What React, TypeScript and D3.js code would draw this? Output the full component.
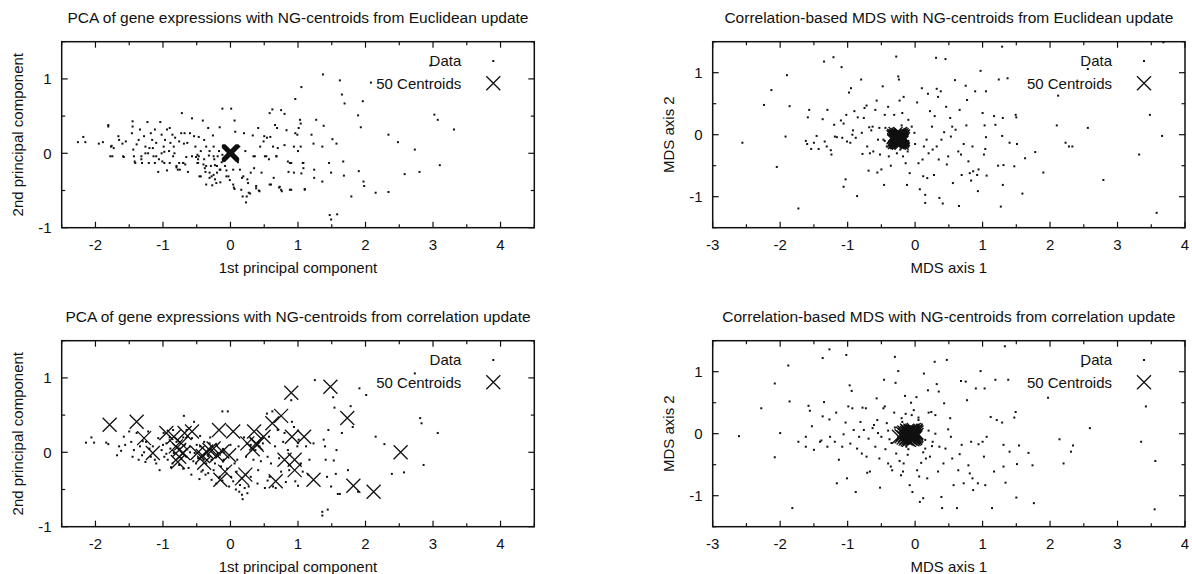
import React from "react";
import * as d3 from "d3";

type Pt = [number, number];

// tick values
const pcaXTicks = [-2, -1, 0, 1, 2, 3, 4];
const mdsXTicks = [-3, -2, -1, 0, 1, 2, 3, 4];
const yTickLabels = [-1, 0, 1];

// PCA, centroids from Euclidean update
const pcaEuclidData: Pt[] = [
  [-2.26, 0.15], [-2.18, 0.22], [-2.15, 0.15], [-1.95, 0.13], [-1.89, 0.15], [-1.81, 0.38], [-1.81, 0.36], [-1.76, 0.1],
  [-1.78, -0.04], [-1.73, 0.07], [-1.66, 0.23], [-1.65, 0.18], [-1.6, 0.13], [-1.59, -0.04], [-1.55, 0.16], [-1.45, 0.43],
  [-1.45, 0.36], [-1.46, 0.27], [-1.44, 0.05], [-1.43, -0.04], [-1.42, -0.11], [-1.39, 0.12], [-1.36, 0.18], [-1.34, 0.32],
  [-1.32, -0.08], [-1.31, -0.13], [-1.28, 0.23], [-1.26, 0.09], [-1.23, 0.42], [-1.22, 0.0], [-1.21, -0.13], [-1.18, 0.27],
  [-1.16, 0.18], [-1.15, 0.07], [-1.14, -0.04], [-1.12, 0.32], [-1.1, 0.14], [-1.07, -0.25], [-1.06, -0.08], [-1.04, 0.42],
  [-1.02, 0.25], [-1.02, 0.0], [-0.99, 0.09], [-0.98, -0.13], [-0.97, 0.18], [-0.94, 0.32], [-0.94, -0.23], [-0.91, 0.03],
  [-0.9, 0.34], [-0.89, 0.14], [-0.86, 0.25], [-0.85, -0.04], [-0.84, 0.09], [-0.82, 0.21], [-0.8, -0.17], [-0.78, -0.22],
  [-0.76, 0.16], [-0.76, -0.13], [-0.73, 0.27], [-0.72, 0.54], [-0.7, -0.13], [-0.69, 0.13], [-0.68, 0.27], [-0.67, -0.15],
  [-0.64, 0.14], [-0.6, 0.27], [-0.57, 0.47], [-0.57, -0.04], [-0.54, 0.23], [-0.52, 0.09], [-0.49, -0.02], [-0.48, -0.08],
  [-0.47, 0.22], [-0.44, 0.03], [-0.41, 0.44], [-0.4, -0.15], [-0.39, 0.18], [-0.37, -0.25], [-0.36, 0.09], [-0.33, 0.34],
  [-0.32, -0.03], [-0.31, -0.33], [-0.29, -0.17], [-0.27, -0.43], [-0.26, 0.24], [-0.25, 0.09], [-0.24, -0.08], [-0.23, -0.35],
  [-0.2, -0.26], [-0.19, -0.04], [-0.17, 0.03], [-0.16, 0.35], [-0.15, -0.39], [-0.13, -0.12], [-0.12, 0.6], [-0.1, 0.09],
  [-0.08, -0.17], [-0.06, -0.23], [-0.04, -0.04], [-0.03, -0.31], [0.01, 0.6], [0.04, -0.42], [0.05, -0.46], [0.06, 0.44],
  [0.07, 0.29], [0.09, -0.06], [0.11, -0.12], [0.13, 0.09], [0.14, -0.22], [0.17, -0.33], [0.18, -0.58], [0.2, 0.27],
  [0.22, 0.03], [0.23, -0.66], [0.25, -0.35], [0.26, -0.4], [0.27, -0.53], [0.3, -0.26], [0.33, 0.24], [0.34, -0.04],
  [0.35, -0.2], [0.38, -0.44], [0.41, 0.34], [0.42, -0.5], [0.44, 0.09], [0.46, -0.26], [0.49, 0.16], [0.5, 0.23],
  [0.51, -0.04], [0.54, 0.21], [0.57, -0.08], [0.58, 0.54], [0.59, 0.22], [0.6, -0.42], [0.62, 0.59], [0.63, 0.09],
  [0.64, -0.33], [0.66, 0.38], [0.68, -0.04], [0.69, 0.34], [0.7, 0.07], [0.72, -0.46], [0.75, 0.58], [0.76, -0.51],
  [0.8, 0.53], [0.8, 0.11], [0.83, 0.31], [0.85, -0.11], [0.86, -0.25], [0.88, -0.49], [0.9, -0.13], [0.94, 0.09],
  [0.94, -0.26], [0.96, 0.73], [0.96, 0.27], [0.99, 0.25], [1.0, 0.03], [1.01, 0.34], [1.03, 0.45], [1.04, 0.4],
  [1.04, 0.09], [1.05, 0.89], [1.07, -0.13], [1.08, -0.2], [1.1, -0.48], [1.2, 0.25], [1.23, 0.13], [1.24, -0.22],
  [1.24, -0.33], [1.27, 0.45], [1.36, 0.09], [1.36, -0.38], [1.38, 0.37], [1.37, 1.06], [1.46, -0.13], [1.47, -0.83],
  [1.49, -0.26], [1.51, 0.19], [1.49, -0.89], [1.57, 0.13], [1.58, -0.82], [1.62, 0.98], [1.65, 0.79], [1.67, -0.11],
  [1.68, -0.3], [1.69, 0.67], [1.79, -0.58], [1.89, 0.51], [1.9, -0.24], [1.93, 0.35], [1.96, 0.7], [1.97, -0.38],
  [1.98, -0.44], [2.15, -0.53], [2.34, 0.25], [2.34, -0.52], [2.48, 0.15], [2.58, -0.28], [2.73, 0.05], [2.8, -0.25],
  [3.02, 0.52], [3.07, 0.45], [3.1, -0.16], [3.31, 0.32], [2.08, 0.95], [2.96, 1.18],
  [-0.49, -0.13], [-0.47, -0.04], [-0.39, -0.08], [-0.36, -0.17], [-0.44, -0.31], [-0.25, -0.29], [-0.2, -0.17],
  [-0.15, -0.22], [-0.31, 0.03], [-0.12, -0.02], [-0.25, -0.04], [-0.31, -0.26],
  [-1.77, 0.09], [-1.75, -0.04], [-1.58, -0.05], [-1.41, -0.13], [-1.32, -0.04], [-1.26, 0.0], [-1.2, 0.07], [-1.12, -0.13],
  [-1.1, -0.04], [-1.01, -0.11], [-0.98, 0.02], [-0.9, -0.13], [-0.83, 0.0], [-0.8, -0.19], [-0.75, -0.22], [-0.7, -0.13],
  [-0.655, -0.05], [-0.63, -0.25], [-0.51, -0.05], [-0.48, -0.13], [-0.46, -0.31], [-0.38, -0.2], [-0.36, -0.42], [-0.28, -0.31],
  [-0.23, -0.16], [-0.21, -0.4], [-0.16, -0.22], [-0.06, -0.31], [-0.01, -0.36], [0.04, -0.22], [0.06, -0.48], [0.16, -0.49],
  [0.19, -0.31], [0.24, -0.58], [0.29, -0.54], [0.38, -0.47], [0.43, -0.51], [0.58, -0.42], [0.73, -0.45], [0.75, -0.49],
  [0.9, -0.49], [1.1, -0.49], [0.88, -0.13], [1.05, -0.27], [1.08, -0.13], [0.68, -0.04], [0.53, -0.04], [0.36, -0.04],
];

const pcaEuclidCentroids: Pt[] = [
  [0.0, 0.0], [0.01, 0.0], [-0.01, 0.01], [0.0, -0.01], [0.01, 0.01], [-0.01, -0.01], [0.02, 0.0], [-0.02, 0.0], [0.0, 0.02], [0.0, -0.02],
  [0.01, -0.01], [-0.01, 0.0], [0.0, 0.01], [0.02, 0.01], [-0.01, 0.02], [0.01, 0.02], [-0.02, -0.01], [0.02, -0.01], [0.0, 0.0], [0.01, 0.0],
  [-0.01, 0.01], [0.0, -0.01], [0.01, 0.01], [-0.02, 0.01], [0.01, -0.02], [0.0, 0.0], [-0.01, -0.02], [0.02, 0.02], [0.0, 0.01], [-0.01, 0.0],
  [0.01, 0.0], [0.0, -0.01], [-0.01, 0.01], [0.01, -0.01], [0.0, 0.0], [0.02, 0.0], [-0.02, 0.0], [0.0, 0.02], [0.01, 0.01], [-0.01, -0.01],
  [0.0, 0.0], [0.01, 0.01], [-0.01, 0.0], [0.0, -0.02], [0.01, 0.0], [0.0, 0.01], [-0.01, 0.01], [0.01, -0.01], [0.0, 0.0], [-0.02, 0.02],
];

// MDS, centroids from Euclidean update
const mdsEuclidData: Pt[] = [
  [-2.56, -0.13], [-2.24, 0.48], [-2.13, 0.72], [-2.05, -0.52], [-1.92, -0.03], [-1.9, 0.96], [-1.86, 0.46], [-1.73, -1.19],
  [-1.62, -0.1], [-1.59, 0.28], [-1.57, 0.4], [-1.6, -0.15], [-1.54, -0.23], [-1.5, -0.13], [-1.46, -0.02], [-1.43, -0.23],
  [-1.37, 0.25], [-1.35, 1.18], [-1.34, -0.11], [-1.31, -0.19], [-1.3, 0.4], [-1.25, -0.25], [-1.24, -0.32], [-1.21, 1.25],
  [-1.2, 0.16], [-1.19, -0.03], [-1.16, -0.04], [-1.1, 0.23], [-1.09, 1.09], [-1.08, -0.05], [-1.06, 0.18], [-1.06, -0.84],
  [-1.03, -0.72], [-1.02, 0.32], [-1.01, -0.11], [-0.98, 0.68], [-0.96, -0.13], [-0.95, 0.75], [-0.93, 0.0], [-0.92, 0.07],
  [-0.9, 0.38], [-0.88, -0.05], [-0.86, -0.99], [-0.85, 0.28], [-0.8, 0.89], [-0.79, 0.03], [-0.78, -0.31], [-0.76, 0.27],
  [-0.75, 0.43], [-0.72, 0.47], [-0.71, -0.19], [-0.69, -0.58], [-0.68, 0.12], [-0.67, -0.3], [-0.65, 0.07], [-0.63, 0.13],
  [-0.62, -0.27], [-0.59, 0.4], [-0.57, 0.55], [-0.56, -0.61], [-0.55, -0.08], [-0.53, 0.11], [-0.52, -0.32], [-0.5, -0.56],
  [-0.48, 0.78], [-0.47, -0.08], [-0.46, -0.81], [-0.45, 0.32], [-0.44, 0.11], [-0.42, -0.19], [-0.4, 0.45], [-0.39, -0.35],
  [-0.36, -0.5], [-0.34, -0.19], [-0.31, 0.32], [-0.28, 1.26], [-0.27, -0.3], [-0.25, 0.94], [-0.24, 0.89], [-0.23, 0.55],
  [-0.22, -0.24], [-0.19, 0.35], [-0.18, -0.35], [-0.17, 0.61], [-0.14, -0.46], [-0.12, -0.81], [-0.11, -0.27], [-0.1, 0.24],
  [-0.08, -0.62], [-0.05, 0.13], [-0.01, 0.03], [0.03, 0.52], [0.05, -0.46], [0.07, -0.88], [0.1, 0.75], [0.11, -0.4],
  [0.12, -0.67], [0.13, -0.19], [0.15, -0.97], [0.15, -1.1], [0.17, -0.08], [0.18, -0.7], [0.19, 0.66], [0.2, -0.3],
  [0.22, 0.38], [0.25, 0.13], [0.26, -0.24], [0.28, -0.65], [0.29, 0.3], [0.31, 1.24], [0.32, 0.74], [0.32, -0.19],
  [0.34, 0.61], [0.35, -0.4], [0.36, -1.02], [0.38, 0.7], [0.39, -0.08], [0.41, -1.11], [0.43, 0.04], [0.45, 1.22],
  [0.46, 0.45], [0.47, -0.48], [0.49, -0.35], [0.52, 0.27], [0.53, -0.03], [0.55, 0.13], [0.56, -0.78], [0.59, 0.88],
  [0.6, 0.08], [0.64, -0.27], [0.65, -1.15], [0.66, 0.4], [0.68, -0.32], [0.69, -0.65], [0.72, -0.15], [0.75, 0.79],
  [0.76, 0.15], [0.77, 0.56], [0.79, -0.43], [0.81, -0.62], [0.83, -0.74], [0.85, -0.19], [0.86, -0.59], [0.89, 0.7],
  [0.92, -0.65], [0.93, -0.91], [0.94, -0.56], [0.97, 1.03], [1.0, 0.35], [1.02, -0.32], [1.03, 0.15], [1.04, -0.23],
  [1.05, -0.04], [1.06, -0.66], [1.05, 0.7], [1.17, 0.3], [1.19, 0.16], [1.24, 0.89], [1.23, -0.5], [1.27, -1.16],
  [1.29, 1.42], [1.29, -0.02], [1.3, 0.27], [1.3, -0.81], [1.31, -0.49], [1.37, 0.91], [1.4, -0.13], [1.49, 0.32],
  [1.5, 0.28], [1.47, -0.51], [1.51, -0.15], [1.59, -0.95], [1.63, -0.38], [1.78, -0.28], [1.9, -0.61], [2.1, 0.15],
  [2.12, 0.63], [2.23, -0.13], [2.28, -0.19], [2.33, -0.19], [2.56, 0.11], [2.56, 1.06], [2.79, -0.73], [3.32, -0.32],
  [3.48, 0.32], [3.58, -1.26], [3.66, -0.02], [3.68, 1.49],
  [-0.35, 0.05], [-0.15, 0.05], [-0.3, -0.2], [-0.1, -0.1], [-0.4, 0.0], [-0.2, 0.15], [0.0, -0.15], [-0.45, -0.1],
];

const mdsEuclidCentroids: Pt[] = [
  [-0.25, -0.05], [-0.22, -0.08], [-0.28, -0.03], [-0.2, -0.1], [-0.3, -0.06], [-0.24, 0.0], [-0.26, -0.11], [-0.19, -0.04], [-0.31, -0.09], [-0.23, -0.02],
  [-0.27, -0.07], [-0.21, -0.12], [-0.29, 0.01], [-0.18, -0.07], [-0.25, -0.09], [-0.32, -0.04], [-0.22, -0.05], [-0.26, -0.01], [-0.2, -0.13], [-0.28, -0.1],
  [-0.24, -0.06], [-0.23, -0.11], [-0.27, -0.04], [-0.21, -0.02], [-0.3, -0.12], [-0.25, -0.03], [-0.19, -0.09], [-0.29, -0.07], [-0.24, -0.13], [-0.22, 0.01],
  [-0.26, -0.08], [-0.31, -0.02], [-0.2, -0.06], [-0.28, -0.05], [-0.23, -0.09], [-0.25, -0.12], [-0.18, -0.03], [-0.27, -0.1], [-0.21, -0.08], [-0.29, -0.11],
  [-0.24, -0.04], [-0.26, -0.06], [-0.22, -0.1], [-0.3, -0.03], [-0.25, -0.07], [-0.2, -0.01], [-0.28, -0.08], [-0.23, -0.06], [-0.27, -0.12], [-0.21, -0.05],
];

// PCA, centroids from correlation update
const pcaCorrData: Pt[] = [
  [-2.14, 0.13], [-2.06, 0.2], [-2.02, 0.13], [-1.84, 0.13], [-1.81, 0.11], [-1.68, -0.04], [-1.65, 0.08], [-1.58, 0.21],
  [-1.56, 0.1], [-1.5, 0.28], [-1.47, 0.14], [-1.43, 0.03], [-1.39, 0.26], [-1.36, -0.1], [-1.34, 0.08], [-1.31, -0.04],
  [-1.26, -0.13], [-1.25, 0.14], [-1.22, 0.28], [-1.18, -0.06], [-1.15, 0.08], [-1.1, -0.15], [-1.07, 0.19], [-1.05, -0.24],
  [-1.02, 0.03], [-0.99, 0.26], [-0.98, -0.06], [-0.95, 0.12], [-0.93, -0.1], [-0.89, 0.05], [-0.86, -0.15], [-0.84, -0.01],
  [-0.8, 0.14], [-0.76, -0.17], [-0.73, -0.08], [-0.69, 0.49], [-0.68, 0.1], [-0.65, -0.06], [-0.62, -0.21], [-0.6, 0.08],
  [-0.57, 0.19], [-0.54, 0.41], [-0.53, -0.01], [-0.51, -0.15], [-0.48, -0.08], [-0.45, 0.08], [-0.43, -0.26], [-0.41, -0.24],
  [-0.39, 0.14], [-0.37, -0.3], [-0.36, -0.15], [-0.33, -0.05], [-0.31, 0.12], [-0.28, -0.37], [-0.25, -0.24], [-0.23, -0.15],
  [-0.21, -0.42], [-0.19, -0.01], [-0.16, -0.33], [-0.14, -0.19], [-0.12, 0.55], [-0.1, -0.1], [-0.04, 0.55], [-0.02, -0.46],
  [0.01, -0.33], [0.04, -0.39], [0.06, -0.15], [0.09, -0.26], [0.12, 0.08], [0.13, -0.53], [0.14, -0.44], [0.17, -0.57],
  [0.18, -0.63], [0.21, -0.48], [0.23, -0.06], [0.27, -0.46], [0.3, -0.33], [0.34, -0.1], [0.37, 0.03], [0.41, -0.24],
  [0.43, 0.08], [0.48, 0.12], [0.51, -0.48], [0.54, 0.52], [0.55, -0.06], [0.57, 0.21], [0.58, -0.33], [0.6, -0.15],
  [0.62, 0.55], [0.63, -0.46], [0.66, 0.08], [0.67, -0.48], [0.7, 0.3], [0.72, -0.08], [0.75, -0.26], [0.78, 0.14],
  [0.8, 0.26], [0.85, 0.03], [0.87, -0.24], [0.9, 0.7], [0.91, 0.41], [0.94, 0.34], [0.96, -0.39], [0.99, 0.08],
  [1.01, 0.17], [1.04, -0.15], [1.07, -0.26], [1.25, 0.97], [1.38, 0.17], [1.4, 0.08], [1.41, -0.1], [1.43, -0.33],
  [1.45, 0.3], [1.52, 0.74], [1.53, -0.11], [1.54, 0.6], [1.56, -0.29], [1.59, -0.56], [1.62, -0.56], [1.65, 0.26],
  [1.78, 0.62], [1.81, 0.34], [1.74, -0.24], [1.89, -0.53], [1.91, 0.86], [2.01, 0.77], [2.15, 0.21], [2.28, 0.11],
  [2.39, -0.29], [2.57, -0.27], [2.73, 1.06], [2.81, 0.46], [2.83, 0.39], [2.86, -0.17], [3.07, 0.26], [1.36, -0.8],
  [1.44, -0.77], [1.36, -0.85], [1.12, 0.08], [1.23, 0.12], [1.15, -0.3], [1.57, 0.03], [1.17, -0.1], [1.49, -0.46],
  [-1.2, 0.05], [-1.0, 0.1], [-0.9, 0.2], [-0.7, 0.2], [-0.6, 0.0], [-0.5, 0.1], [-0.4, -0.1], [-0.3, 0.2],
  [-0.2, 0.1], [-0.1, 0.0], [0.0, 0.1], [0.1, -0.1], [0.2, 0.2], [-1.3, 0.15], [-0.85, 0.3], [-0.65, 0.3],
  [-0.75, 0.05], [-0.55, -0.12], [-0.95, -0.02], [-0.45, 0.22], [-0.28, -0.1], [-0.05, -0.22], [0.3, 0.1], [0.45, -0.12],
  [-1.62, 0.02], [-1.45, -0.06], [-1.28, 0.0], [-1.12, -0.1], [-0.88, -0.2], [-0.7, -0.22], [-0.58, -0.3], [-0.46, -0.36],
  [-0.33, -0.28], [-0.12, -0.38], [0.08, -0.5], [0.25, -0.55], [0.4, -0.42], [0.55, -0.38], [0.82, -0.4], [1.0, -0.45],
];

const pcaCorrCentroids: Pt[] = [
  [-1.79, 0.37], [-1.39, 0.41], [-1.28, 0.19], [-1.15, -0.01], [-0.95, 0.26], [-0.84, 0.21], [-0.81, 0.08], [-0.76, 0.03],
  [-0.73, 0.12], [-0.78, -0.13], [-0.7, -0.01], [-0.68, 0.26], [-0.57, 0.28], [-0.49, -0.01], [-0.41, -0.05], [-0.39, -0.14],
  [-0.31, 0.03], [-0.25, 0.05], [-0.2, -0.04], [-0.17, 0.3], [-0.15, -0.37], [-0.08, -0.26], [-0.02, -0.04], [0.04, 0.28],
  [0.17, -0.35], [0.22, -0.3], [0.25, 0.12], [0.33, 0.04], [0.35, 0.28], [0.39, 0.1], [0.49, 0.21], [0.62, 0.39],
  [0.67, -0.39], [0.75, 0.49], [0.8, -0.1], [0.9, 0.8], [0.91, 0.21], [0.95, -0.1], [0.95, -0.24], [1.09, 0.21],
  [1.23, -0.37], [1.48, 0.88], [1.73, 0.46], [1.82, -0.45], [2.12, -0.53], [2.52, 0.0], [-0.36, 0.01], [-0.12, 0.01],
  [0.38, 0.12], [-0.76, -0.06],
];

// MDS, centroids from correlation update
const mdsCorrData: Pt[] = [
  [-2.61, -0.04], [-2.28, 0.41], [-2.08, 0.81], [-2.08, -0.38], [-2.0, 0.01], [-1.88, 1.1], [-1.86, 0.52], [-1.82, -1.2],
  [-1.73, -0.13], [-1.62, -0.05], [-1.62, -0.21], [-1.58, 0.45], [-1.56, 0.37], [-1.53, 0.12], [-1.5, -0.26], [-1.41, -0.13],
  [-1.39, -0.11], [-1.37, 1.22], [-1.37, 0.28], [-1.35, 0.51], [-1.3, -0.21], [-1.27, 0.23], [-1.27, 1.36], [-1.26, -0.05],
  [-1.19, -0.13], [-1.17, 0.34], [-1.16, -0.8], [-1.13, -0.42], [-1.08, -0.21], [-1.06, -0.01], [-1.03, 0.18], [-1.02, 1.27],
  [-1.01, -0.72], [-0.99, 0.44], [-0.97, 0.78], [-0.96, -0.16], [-0.94, 0.69], [-0.93, 0.41], [-0.91, 0.06], [-0.88, -0.94],
  [-0.86, -0.24], [-0.83, -0.05], [-0.81, 0.19], [-0.79, -0.32], [-0.78, 0.42], [-0.76, 0.06], [-0.73, 0.41], [-0.72, -0.37],
  [-0.71, -0.63], [-0.69, -0.08], [-0.67, -0.61], [-0.63, 0.09], [-0.61, 0.14], [-0.59, -0.21], [-0.57, 0.57], [-0.56, 0.22],
  [-0.55, 0.01], [-0.53, -0.4], [-0.52, -0.87], [-0.5, -0.05], [-0.47, 0.41], [-0.46, 0.87], [-0.45, 0.44], [-0.44, -0.25],
  [-0.42, 0.17], [-0.4, -0.48], [-0.38, -0.09], [-0.36, -0.53], [-0.34, -0.59], [-0.31, 0.34], [-0.3, 1.24], [-0.29, 0.82],
  [-0.28, -0.32], [-0.25, 1.01], [-0.23, -0.44], [-0.21, -0.67], [-0.19, 0.19], [-0.18, -0.61], [-0.17, -0.48], [-0.15, 0.61],
  [-0.14, 0.32], [-0.13, -0.21], [-0.11, -0.34], [-0.08, -0.83], [-0.06, 0.5], [-0.04, -0.94], [-0.02, 0.38], [0.02, 0.59],
  [0.03, -0.59], [0.05, 0.26], [0.06, -0.69], [0.07, -1.1], [0.09, -0.47], [0.12, -1.04], [0.13, 0.97], [0.15, -0.24],
  [0.16, -0.4], [0.18, -0.72], [0.19, 0.7], [0.2, 0.34], [0.22, -0.37], [0.24, 0.35], [0.26, -0.13], [0.29, 1.16],
  [0.3, 0.3], [0.32, 0.8], [0.34, -0.61], [0.35, 0.68], [0.36, -0.21], [0.39, -1.02], [0.4, -1.2], [0.42, -0.48],
  [0.43, 0.49], [0.45, -0.24], [0.47, 1.19], [0.49, 0.07], [0.52, 0.25], [0.53, -0.05], [0.55, -0.4], [0.57, -0.83],
  [0.62, -1.2], [0.64, -0.59], [0.66, -0.33], [0.68, 0.85], [0.69, -0.18], [0.72, -0.8], [0.75, 0.84], [0.77, 0.54],
  [0.79, -0.51], [0.81, -0.64], [0.83, -0.13], [0.85, -0.72], [0.86, -0.91], [0.9, 0.73], [0.93, -0.8], [0.94, -0.17],
  [0.97, 1.01], [1.0, -0.13], [1.02, -0.37], [1.03, 0.73], [1.04, -0.83], [1.06, -0.05], [1.12, 0.27], [1.14, -1.2],
  [1.17, -0.61], [1.19, 0.87], [1.21, 0.22], [1.29, 0.18], [1.31, -0.18], [1.31, -0.53], [1.33, 1.41], [1.34, -0.79],
  [1.38, 0.87], [1.4, -0.29], [1.47, 0.26], [1.49, 0.35], [1.5, -1.03], [1.51, -0.49], [1.54, -0.19], [1.68, -0.31],
  [1.74, -0.51], [1.76, -1.12], [1.97, 0.58], [2.14, -0.09], [2.2, -0.48], [2.31, -0.29], [2.34, -0.19], [2.48, 1.09],
  [2.59, 0.09], [3.35, -0.13], [3.42, 0.44], [3.56, -0.44], [3.55, -1.22],
  [-0.3, 0.1], [-0.25, -0.05], [0.1, 0.15], [0.15, -0.1], [-0.35, -0.15], [0.2, 0.05], [0.05, 0.22], [-0.1, -0.25],
  [0.25, -0.2], [-0.2, 0.25], [-0.4, 0.05], [0.3, 0.0], [-0.05, 0.3], [0.12, -0.3],
];

const mdsCorrCentroids: Pt[] = [
  [-0.05, 0.0], [-0.02, -0.03], [-0.08, 0.02], [0.0, 0.03], [-0.1, -0.05], [-0.04, 0.05], [-0.12, 0.01], [0.02, -0.02], [-0.07, -0.08], [-0.03, -0.06],
  [-0.15, -0.02], [-0.06, 0.04], [0.01, 0.01], [-0.09, -0.03], [-0.11, 0.04], [-0.04, -0.09], [-0.01, -0.05], [-0.13, -0.06], [-0.06, -0.01], [-0.02, 0.06],
  [-0.08, -0.06], [-0.16, 0.02], [-0.03, 0.02], [0.0, -0.07], [-0.1, 0.0], [-0.05, -0.04], [-0.07, 0.05], [-0.14, -0.08], [-0.01, 0.03], [-0.09, 0.02],
  [-0.2, -0.04], [-0.04, -0.02], [-0.11, -0.09], [0.02, 0.02], [-0.06, -0.07], [-0.12, 0.05], [-0.03, -0.04], [-0.08, 0.0], [-0.17, -0.06], [-0.05, 0.03],
  [-0.24, -0.05], [-0.02, -0.08], [-0.1, 0.03], [0.01, -0.04], [-0.07, -0.02], [-0.13, -0.01], [-0.04, 0.01], [-0.09, -0.1], [-0.18, 0.0], [-0.06, 0.02],
];

const FONT = "'Liberation Sans', Arial, Helvetica, sans-serif";
const FS = 15;
const TITLE_FS = 15.5;

type Box = { left: number; right: number; top: number; bottom: number };

function Panel(props: {
  title: string;
  xLabel: string;
  yLabel: string;
  box: Box;
  xDomain: [number, number];
  yDomain: [number, number];
  xTicks: number[];
  data: Pt[];
  centroids: Pt[];
}) {
  const { title, xLabel, yLabel, box, xDomain, yDomain, xTicks, data, centroids } = props;
  const x = d3.scaleLinear().domain(xDomain).range([box.left, box.right]);
  const y = d3.scaleLinear().domain(yDomain).range([box.bottom, box.top]);
  const xHalf = d3.range(Math.ceil(xDomain[0] * 2) / 2, xDomain[1] + 1e-6, 0.5);
  const yHalf = d3.range(Math.ceil(yDomain[0] * 2) / 2, yDomain[1] + 1e-6, 0.5);
  const cx = (box.left + box.right) / 2;
  const cy = (box.top + box.bottom) / 2;
  const legX = box.right - 41;
  const legText = box.right - 73;
  const isInt = (v: number) => Math.abs(v - Math.round(v)) < 1e-6;

  return (
    <g fontFamily={FONT} fontSize={FS} fill="#111">
      <text x={cx} y={box.top - 18.5} textAnchor="middle" fontSize={TITLE_FS}>{title}</text>

      {data.map((d, i) => (
        <rect key={"d" + i} x={x(d[0]) - 1} y={y(d[1]) - 1} width={2} height={2} fill="#111" />
      ))}

      {/* axis ticks, mirrored on all four sides */}
      <g stroke="#111" strokeWidth={1.2}>
        {xHalf.map((v) => {
          const len = isInt(v) ? 6 : 3.5;
          return (
            <g key={"xt" + v}>
              <line x1={x(v)} x2={x(v)} y1={box.bottom} y2={box.bottom - len} />
              <line x1={x(v)} x2={x(v)} y1={box.top} y2={box.top + len} />
            </g>
          );
        })}
        {yHalf.map((v) => {
          const len = isInt(v) ? 6 : 3.5;
          return (
            <g key={"yt" + v}>
              <line x1={box.left} x2={box.left + len} y1={y(v)} y2={y(v)} />
              <line x1={box.right} x2={box.right - len} y1={y(v)} y2={y(v)} />
            </g>
          );
        })}
      </g>

      <rect x={box.left} y={box.top} width={box.right - box.left} height={box.bottom - box.top}
        fill="none" stroke="#111" strokeWidth={1.5} />

      {xTicks.map((v) => (
        <text key={"xl" + v} x={x(v)} y={box.bottom + 22.7} textAnchor="middle">{v}</text>
      ))}
      {yTickLabels.map((v) => (
        <text key={"yl" + v} x={box.left - 10} y={y(v) + 5.3} textAnchor="end">{v}</text>
      ))}

      <text x={cx} y={box.bottom + 45} textAnchor="middle">{xLabel}</text>
      <text transform={`translate(${box.left - 38.5},${cy}) rotate(-90)`} textAnchor="middle">{yLabel}</text>

      {/* legend */}
      <text x={legText} y={box.top + 19.3 + 5.3} textAnchor="end">Data</text>
      <rect x={legX - 1} y={box.top + 19.3 - 1} width={2} height={2} fill="#111" />
      <text x={legText} y={box.top + 41.6 + 5.3} textAnchor="end">50 Centroids</text>
      <path d={`M${legX - 7},${box.top + 41.6 - 7}L${legX + 7},${box.top + 41.6 + 7}M${legX - 7},${box.top + 41.6 + 7}L${legX + 7},${box.top + 41.6 - 7}`}
        stroke="#111" strokeWidth={1.3} fill="none" />

      <g stroke="#111" strokeWidth={1.3} fill="none">
        {centroids.map((d, i) => {
          const px = x(d[0]);
          const py = y(d[1]);
          return <path key={"c" + i} d={`M${px - 7},${py - 7}L${px + 7},${py + 7}M${px - 7},${py + 7}L${px + 7},${py - 7}`} />;
        })}
      </g>
    </g>
  );
}

export default function App() {
  const leftX = { left: 61.7, right: 534.3 };
  const rightX = { left: 712.7, right: 1185 };
  const topY = { top: 41.7, bottom: 227.7 };
  const botY = { top: 340.7, bottom: 526.7 };
  return (
    <svg width={1192} height={574} style={{ position: "absolute", left: 0, top: 0, background: "#fff" }}>
      <rect width={1192} height={574} fill="#fff" />
      <Panel
        title="PCA of gene expressions with NG-centroids from Euclidean update"
        xLabel="1st principal component" yLabel="2nd principal component"
        box={{ ...leftX, ...topY }} xDomain={[-2.5, 4.5]} yDomain={[-1, 1.5]} xTicks={pcaXTicks}
        data={pcaEuclidData} centroids={pcaEuclidCentroids} />
      <Panel
        title="Correlation-based MDS with NG-centroids from Euclidean update"
        xLabel="MDS axis 1" yLabel="MDS axis 2"
        box={{ ...rightX, ...topY }} xDomain={[-3, 4]} yDomain={[-1.5, 1.5]} xTicks={mdsXTicks}
        data={mdsEuclidData} centroids={mdsEuclidCentroids} />
      <Panel
        title="PCA of gene expressions with NG-centroids from correlation update"
        xLabel="1st principal component" yLabel="2nd principal component"
        box={{ ...leftX, ...botY }} xDomain={[-2.5, 4.5]} yDomain={[-1, 1.5]} xTicks={pcaXTicks}
        data={pcaCorrData} centroids={pcaCorrCentroids} />
      <Panel
        title="Correlation-based MDS with NG-centroids from correlation update"
        xLabel="MDS axis 1" yLabel="MDS axis 2"
        box={{ ...rightX, ...botY }} xDomain={[-3, 4]} yDomain={[-1.5, 1.5]} xTicks={mdsXTicks}
        data={mdsCorrData} centroids={mdsCorrCentroids} />
    </svg>
  );
}
